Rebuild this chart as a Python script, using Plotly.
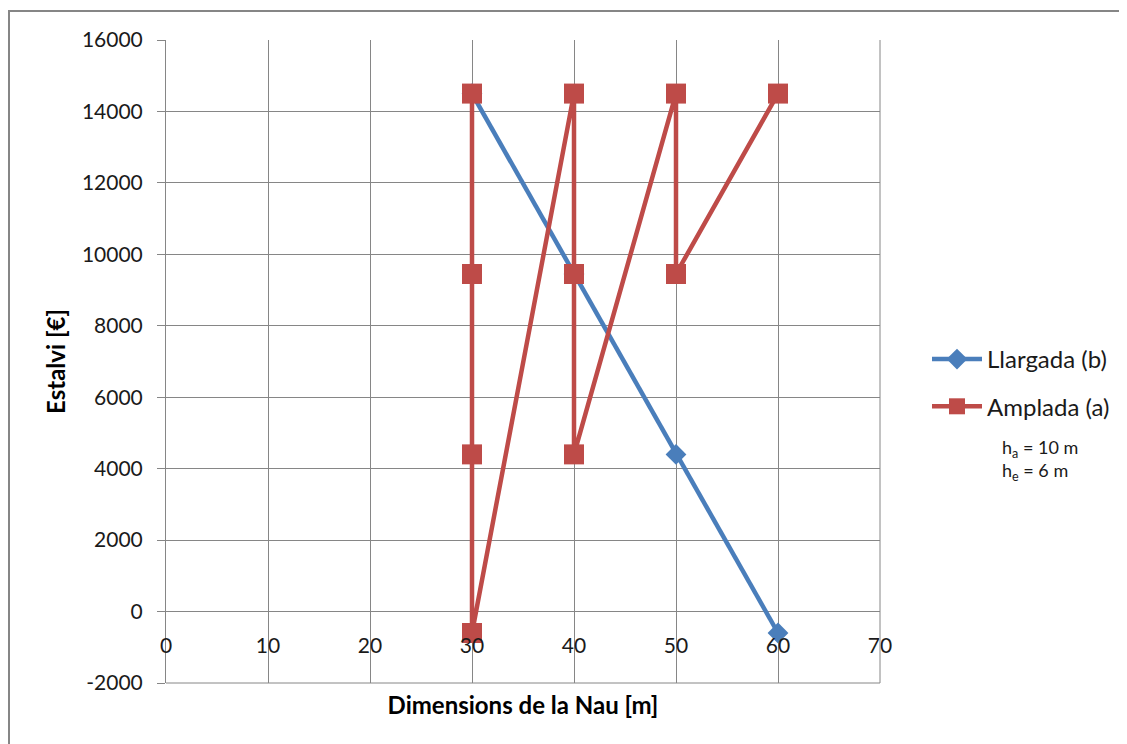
import plotly.graph_objects as go

# Data
llargada_x = [30, 40, 50, 60]
llargada_y = [14500, 9450, 4400, -600]

amplada_x = [30, 30, 30, 30, 40, 40, 40, 50, 50, 60]
amplada_y = [14500, 9450, 4400, -600, 14500, 9450, 4400, 14500, 9450, 14500]

x_ticks = [0, 10, 20, 30, 40, 50, 60, 70]
y_ticks = [-2000, 0, 2000, 4000, 6000, 8000, 10000, 12000, 14000, 16000]

BLUE = "#4A7EBB"
RED = "#BE4B48"
GRID = "#868686"
FONT = "Lato"

fig = go.Figure()
fig.add_trace(go.Scatter(
    x=llargada_x, y=llargada_y, mode="lines+markers", name="Llargada (b)",
    line=dict(color=BLUE, width=4.5),
    marker=dict(symbol="diamond", size=16, color=BLUE),
    legendgroup="b",
))
fig.add_trace(go.Scatter(
    x=amplada_x, y=amplada_y, mode="lines+markers", name="Amplada (a)",
    line=dict(color=RED, width=4.5),
    marker=dict(symbol="square", size=20, color=RED),
    legendgroup="a",
))

# page is offset by the 8px body margin
OFF = 8
W, H = 1127 - OFF, 744 - OFF
L, T = 166 - OFF, 40 - OFF
pw, ph = 714, 643
R = W - L - pw
B = H - T - ph


def px_x(x):
    return (x - OFF - L) / pw


def px_y(y):
    return (T + ph - (y - OFF)) / ph


fig.update_layout(
    width=W, height=H,
    margin=dict(l=L, r=R, t=T, b=B, autoexpand=False),
    plot_bgcolor="white", paper_bgcolor="white",
    font=dict(family=FONT, color="#1a1a1a", size=20),
    showlegend=True,
    legend=dict(
        x=px_x(927), y=px_y(337), xanchor="left", yanchor="top",
        font=dict(size=24, family=FONT, color="#1a1a1a"),
        tracegroupgap=13, itemwidth=50, bgcolor="rgba(0,0,0,0)",
    ),
    xaxis=dict(
        range=[0, 70], tickvals=x_ticks, ticktext=[str(v) for v in x_ticks],
        showgrid=True, gridcolor=GRID, gridwidth=1,
        zeroline=False, showline=False,
        anchor="free", position=2000 / 18000,
        ticks="outside", ticklen=15, tickcolor="rgba(0,0,0,0)",
        tickfont=dict(size=21, family=FONT, color="#1a1a1a"),
        title=dict(text="<b>Dimensions de la Nau [m]</b>",
                   font=dict(size=24, family=FONT, color="#000"),
                   standoff=41),
    ),
    yaxis=dict(
        range=[-2000, 16000], tickvals=y_ticks, ticktext=[str(v) for v in y_ticks],
        showgrid=True, gridcolor=GRID, gridwidth=1,
        zeroline=False, showline=True, linecolor=GRID, linewidth=1,
        ticks="outside", ticklen=8, tickcolor=GRID,
        ticklabelstandoff=10,
        tickfont=dict(size=21, family=FONT, color="#1a1a1a"),
        title=dict(text="<b>Estalvi [€]</b>",
                   font=dict(size=24, family=FONT, color="#000"),
                   standoff=9),
    ),
    shapes=[dict(
        type="rect", xref="paper", yref="paper",
        x0=px_x(9), x1=px_x(1140), y0=px_y(770), y1=px_y(11),
        line=dict(color=GRID, width=2), fillcolor="rgba(0,0,0,0)", layer="below",
    ), dict(
        type="line", xref="paper", yref="paper",
        x0=1, x1=1, y0=0, y1=1, line=dict(color=GRID, width=1),
    ), dict(
        type="line", xref="paper", yref="paper",
        x0=0, x1=1, y0=0, y1=0, line=dict(color=GRID, width=1),
    )],
    annotations=[dict(
        text="h<sub>a</sub> = 10 m<br>h<sub>e</sub> = 6 m",
        xref="paper", yref="paper", x=px_x(1000), y=px_y(434),
        xanchor="left", yanchor="top", align="left", showarrow=False,
        font=dict(size=18, family=FONT, color="#1a1a1a"),
    )],
)

fig.write_html("out.html")
